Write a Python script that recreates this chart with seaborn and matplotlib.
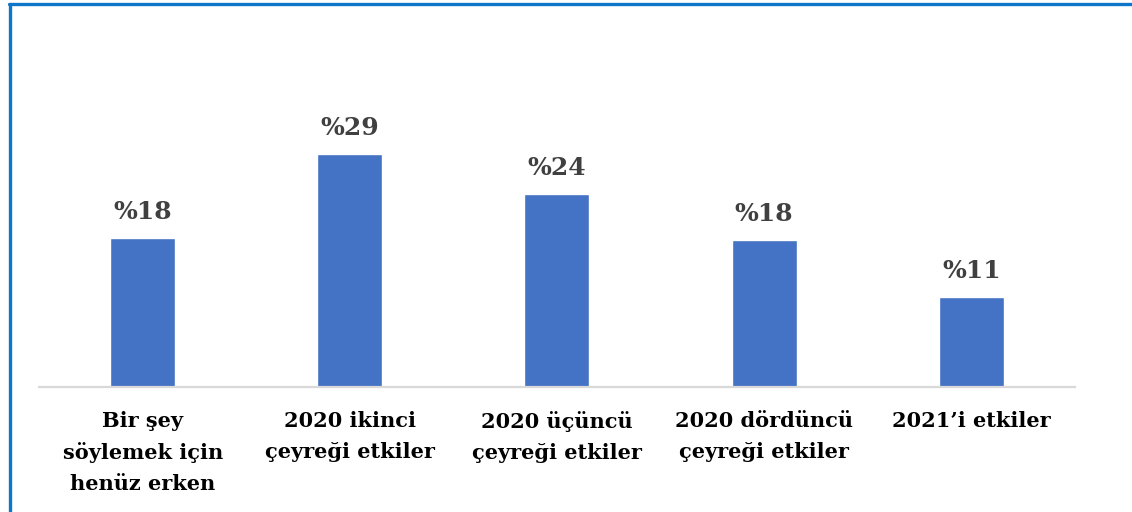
import matplotlib
matplotlib.use("Agg")
import matplotlib.pyplot as plt
import pandas as pd
import seaborn as sns
from matplotlib.lines import Line2D

categories = [
    "Bir şey\nsöylemek için\nhenüz erken",
    "2020 ikinci\nçeyreği etkiler",
    "2020 üçüncü\nçeyreği etkiler",
    "2020 dördüncü\nçeyreği etkiler",
    "2021’i etkiler",
]
values = [18.5, 29.0, 24.0, 18.3, 11.2]
value_labels = ["%18", "%29", "%24", "%18", "%11"]

BAR_COLOR = "#4472C4"
BORDER_COLOR = "#0D76C8"

sns.set_theme(style="white")
plt.rcParams["font.family"] = ["DejaVu Serif"]

df = pd.DataFrame({"kategori": categories, "oran": values})

fig = plt.figure(figsize=(11.32, 5.12), dpi=100)
ax = fig.add_axes([0.0345, 0.244, 0.915, 0.547])

sns.barplot(data=df, x="kategori", y="oran", color=BAR_COLOR, width=0.314,
            saturation=1, ax=ax)

ax.set_ylim(0, 34.8)
ax.set_xlim(-0.5, len(categories) - 0.5)
ax.set_xlabel("")
ax.set_ylabel("")
ax.set_yticks([])
for side in ["top", "right", "left"]:
    ax.spines[side].set_visible(False)
ax.spines["bottom"].set_color("#D9D9D9")
ax.spines["bottom"].set_linewidth(1.6)
ax.tick_params(axis="x", length=0, pad=17)
for lab in ax.get_xticklabels():
    lab.set_fontsize(15)
    lab.set_fontweight("bold")
    lab.set_color("black")
    lab.set_linespacing(1.68)

for i, v in enumerate(values):
    ax.annotate(value_labels[i], (i, v), xytext=(0, 10), textcoords="offset points",
                ha="center", va="bottom", fontsize=18, fontweight="bold",
                color="#404040")

# blue frame around the chart (left and top edges visible)
fig.add_artist(Line2D([0.0088, 0.0088], [0, 0.992], transform=fig.transFigure,
                      color=BORDER_COLOR, linewidth=2.4))
fig.add_artist(Line2D([0.0077, 1.0], [0.992, 0.992], transform=fig.transFigure,
                      color=BORDER_COLOR, linewidth=2.4))

fig.savefig("out.png", dpi=100)
